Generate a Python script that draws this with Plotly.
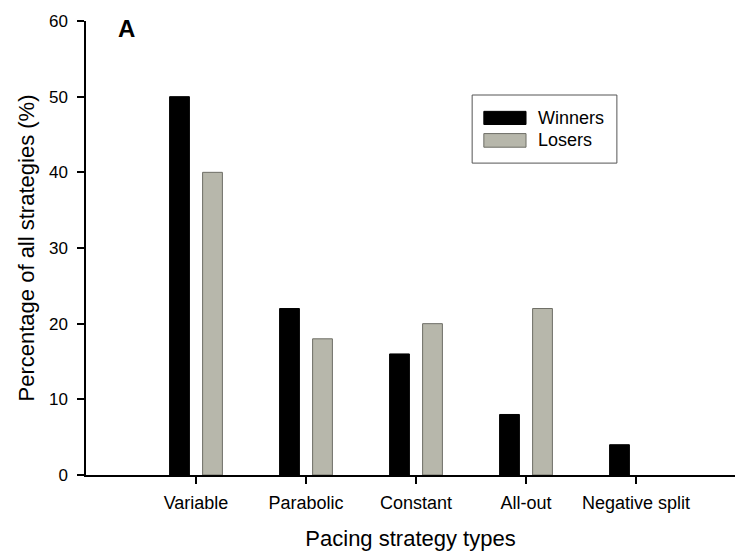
import plotly.graph_objects as go

categories = ["Variable", "Parabolic", "Constant", "All-out", "Negative split"]
winners = [50, 22, 16, 8, 4]
losers = [40, 18, 20, 22, 0]
y_ticks = [0, 10, 20, 30, 40, 50, 60]

FONT = "Liberation Sans, Arial, sans-serif"

fig = go.Figure()
fig.add_trace(go.Bar(x=categories, y=winners, name="Winners",
                     marker=dict(color="#000000",
                                 line=dict(color="#000000",
                                           width=[1 if v > 0 else 0 for v in winners])),
                     showlegend=False))
fig.add_trace(go.Bar(x=categories, y=losers, name="Losers",
                     marker=dict(color="#b7b7ab",
                                 line=dict(color="#6e6e66",
                                           width=[1 if v > 0 else 0 for v in losers])),
                     showlegend=False))

# custom legend (box, swatches, labels)
shapes = [
    dict(type="rect", xref="paper", yref="paper", x0=0.595, x1=0.818, y0=0.687, y1=0.837,
         line=dict(color="#555555", width=1), fillcolor="rgba(0,0,0,0)"),
    dict(type="rect", xref="paper", yref="paper", x0=0.613, x1=0.678, y0=0.772, y1=0.801,
         line=dict(color="#000000", width=1), fillcolor="#000000"),
    dict(type="rect", xref="paper", yref="paper", x0=0.613, x1=0.678, y0=0.722, y1=0.752,
         line=dict(color="#6e6e66", width=1), fillcolor="#b7b7ab"),
]
annotations = [
    dict(text="Winners", xref="paper", yref="paper", x=0.693, y=0.787, xanchor="left",
         yanchor="middle", showarrow=False, font=dict(family=FONT, size=18, color="#000")),
    dict(text="Losers", xref="paper", yref="paper", x=0.693, y=0.737, xanchor="left",
         yanchor="middle", showarrow=False, font=dict(family=FONT, size=18, color="#000")),
    dict(text="<b>A</b>", xref="paper", yref="paper", x=0.062, y=0.984, xanchor="center",
         yanchor="middle", showarrow=False, font=dict(family=FONT, size=24, color="#000")),
]

fig.update_layout(
    width=751, height=560,
    margin=dict(l=86, r=16, t=15, b=85),
    paper_bgcolor="white", plot_bgcolor="white",
    barmode="group", bargap=0.4, bargroupgap=0.4,
    font=dict(family=FONT, size=16, color="#000"),
    shapes=shapes, annotations=annotations,
    xaxis=dict(
        range=[-1, 4.9], showline=True, linecolor="#000", linewidth=1.5,
        ticks="outside", ticklen=7, tickcolor="#000", tickwidth=1.5,
        showgrid=False, zeroline=False, ticklabelstandoff=4,
        tickfont=dict(family=FONT, size=18),
        title=dict(text="Pacing strategy types", font=dict(family=FONT, size=22), standoff=18),
    ),
    yaxis=dict(
        range=[0, 60], tickvals=y_ticks, showline=True, linecolor="#000", linewidth=1.5,
        ticks="outside", ticklen=7, tickcolor="#000", tickwidth=1.5,
        showgrid=False, zeroline=False, ticklabelstandoff=6,
        tickfont=dict(family=FONT, size=17),
        title=dict(text="Percentage of all strategies (%)", font=dict(family=FONT, size=22), standoff=8),
    ),
)

fig.write_html("out.html")
